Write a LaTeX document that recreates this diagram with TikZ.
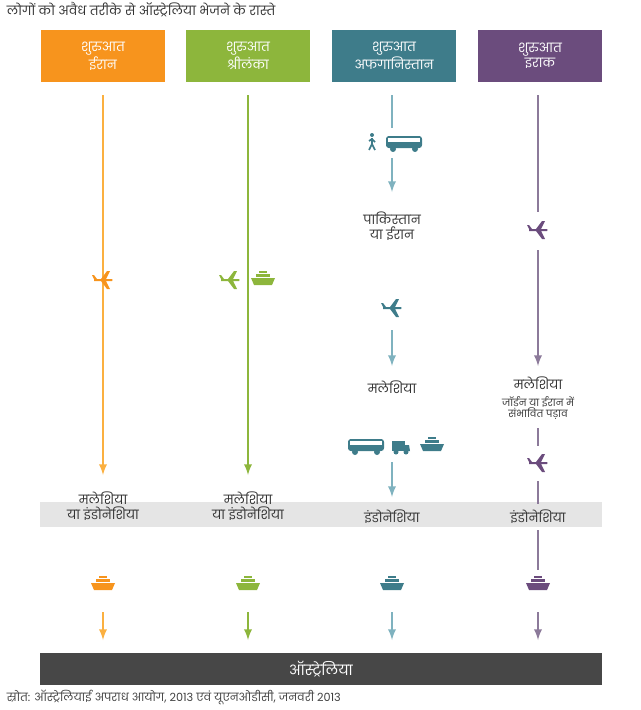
\documentclass[tikz,border=0pt]{standalone}
\usepackage{fontspec}
\setmainfont{Poppins}[Script=Devanagari]
\usetikzlibrary{positioning}
\definecolor{cOr}{HTML}{F7941D}\definecolor{lOr}{HTML}{FBB040}
\definecolor{cGr}{HTML}{8DB63C}\definecolor{lGr}{HTML}{8DB63C}
\definecolor{cTe}{HTML}{3E7C8A}\definecolor{lTe}{HTML}{7FB2BF}
\definecolor{cPu}{HTML}{6B4C7D}\definecolor{lPu}{HTML}{8C7A9A}
\begin{document}
\begin{tikzpicture}[x=0.025cm,y=-0.025cm]
\tikzstyle{head}=[minimum width=3.1cm, minimum height=1.3cm, text=white, align=center, font=\small, inner sep=0pt]
\tikzstyle{lbl}=[align=center, font=\small, text=black!80]
\tikzstyle{arrow}=[draw, line width=1.6pt, -latex]
\tikzset{
  plane/.pic={\fill (-9,-1)--(-2,-1)--(4,-9)--(7,-9)--(3,-1)--(9,-1) to[out=0,in=0] (9,1)--(3,1)--(7,9)--(4,9)--(-2,1)--(-9,1)--cycle;
              \fill (-9,-1)--(-11,-5)--(-9,-5)--(-6,-1)--cycle;},
  ship/.pic={\fill (-12,-2)--(12,-2)--(9,5)--(-9,5)--cycle; \fill (-7,-6) rectangle (7,-3); \fill (-4,-9) rectangle (4,-7);},
  bus/.pic={\fill[rounded corners=2pt] (-18,-7) rectangle (18,5); \fill[white] (-16,-5) rectangle (16,-1);
            \fill (-11,6) circle (3); \fill (11,6) circle (3);},
  truck/.pic={\fill (-8,-6) rectangle (5,4); \fill (5,-2)--(9,-2)--(10,4)--(5,4)--cycle; \fill (-4,5) circle (2.5); \fill (6,5) circle (2.5);},
  walker/.pic={\fill (0,-8) circle (2); \draw[line width=1.2pt] (0,-5)--(0,1)--(-3,7) (0,1)--(3,7) (-3,-2)--(0,-4)--(3,-1);}
}
\useasboundingbox (0,0) rectangle (640,710);
% Title and frame
\node[anchor=west, font=\small, text=black!80] (title) at (2,10) {लोगों को अवैध तरीके से ऑस्ट्रेलिया भेजने के रास्ते};
\fill[black!10] (40,502) rectangle (602,527);
\node[fill=black!72, text=white, minimum width=14.05cm, minimum height=0.8cm] (aus) at (321,669) {ऑस्ट्रेलिया};
\node[anchor=west, font=\footnotesize, text=black!75] (src) at (2,697) {स्रोत: ऑस्ट्रेलियाई अपराध आयोग, 2013 एवं यूएनओडीसी, जनवरी 2013};
% Headers
\node[head, fill=cOr] (hIR) at (103,56) {शुरुआत\\ईरान};
\node[head, fill=cGr] (hSL) at (248,56) {शुरुआत\\श्रीलंका};
\node[head, fill=cTe] (hAF) at (394,56) {शुरुआत\\अफगानिस्तान};
\node[head, fill=cPu] (hIQ) at (540,56) {शुरुआत\\इराक};
% Iran
\node[lbl] (ir1) at (103,506) {मलेशिया\\या इंडोनेशिया};
\coordinate (ir0) at (103,95);
\path[arrow, lOr] (ir0) -- (103,475);
\pic[cOr] at (103,280) {plane};
\pic[cOr] at (103,585) {ship};
\coordinate (ir2) at (103,612); \coordinate (ir3) at (103,640);
\path[arrow, lOr] (ir2) -- (ir3);
% Sri Lanka
\node[lbl] (sl1) at (248,506) {मलेशिया\\या इंडोनेशिया};
\coordinate (sl0) at (248,95);
\path[arrow, lGr] (sl0) -- (248,475);
\pic[cGr] at (230,280) {plane};
\pic[cGr] at (263,280) {ship};
\pic[cGr] at (248,585) {ship};
\coordinate (sl2) at (248,612); \coordinate (sl3) at (248,640);
\path[arrow, lGr] (sl2) -- (sl3);
% Afghanistan
\coordinate (af0) at (392,95); \coordinate (af0b) at (392,128);
\draw[lTe, line width=1.6pt] (af0) -- (af0b);
\pic[cTe] at (372,143) {walker};
\pic[cTe] at (404,143) {bus};
\coordinate (af1) at (392,158); \coordinate (af1b) at (392,192);
\path[arrow, lTe] (af1) -- (af1b);
\node[lbl] (af2) at (392,226) {पाकिस्तान\\या ईरान};
\pic[cTe] at (392,308) {plane};
\coordinate (af3) at (392,330); \coordinate (af3b) at (392,366);
\path[arrow, lTe] (af3) -- (af3b);
\node[lbl] (af4) at (392,387) {मलेशिया};
\pic[cTe] at (366,446) {bus};
\pic[cTe] at (400,447) {truck};
\pic[cTe] at (432,446) {ship};
\coordinate (af5) at (392,462); \coordinate (af5b) at (392,497);
\path[arrow, lTe] (af5) -- (af5b);
\node[lbl] (af6) at (392,517) {इंडोनेशिया};
\pic[cTe] at (392,585) {ship};
\coordinate (af7) at (392,612); \coordinate (af7b) at (392,640);
\path[arrow, lTe] (af7) -- (af7b);
% Iraq
\coordinate (iq0) at (538,95); \coordinate (iq0b) at (538,212);
\draw[lPu, line width=1.6pt] (iq0) -- (iq0b);
\pic[cPu] at (538,230) {plane};
\coordinate (iq1) at (538,250); \coordinate (iq1b) at (538,366);
\path[arrow, lPu] (iq1) -- (iq1b);
\node[lbl] (iq2) at (538,383) {मलेशिया};
\node[lbl, font=\scriptsize, below=-2pt of iq2] (iq3) {जॉर्डन या ईरान में\\संभावित पड़ाव};
\coordinate (iq4) at (538,428); \coordinate (iq4b) at (538,446);
\draw[lPu, line width=1.6pt] (iq4) -- (iq4b);
\pic[cPu] at (538,463) {plane};
\coordinate (iq5) at (538,481); \coordinate (iq5b) at (538,504);
\draw[lPu, line width=1.6pt] (iq5) -- (iq5b);
\node[lbl] (iq6) at (538,517) {इंडोनेशिया};
\coordinate (iq7) at (538,530); \coordinate (iq7b) at (538,570);
\draw[lPu, line width=1.6pt] (iq7) -- (iq7b);
\pic[cPu] at (538,585) {ship};
\coordinate (iq8) at (538,612); \coordinate (iq8b) at (538,640);
\path[arrow, lPu] (iq8) -- (iq8b);
\end{tikzpicture}
\end{document}
